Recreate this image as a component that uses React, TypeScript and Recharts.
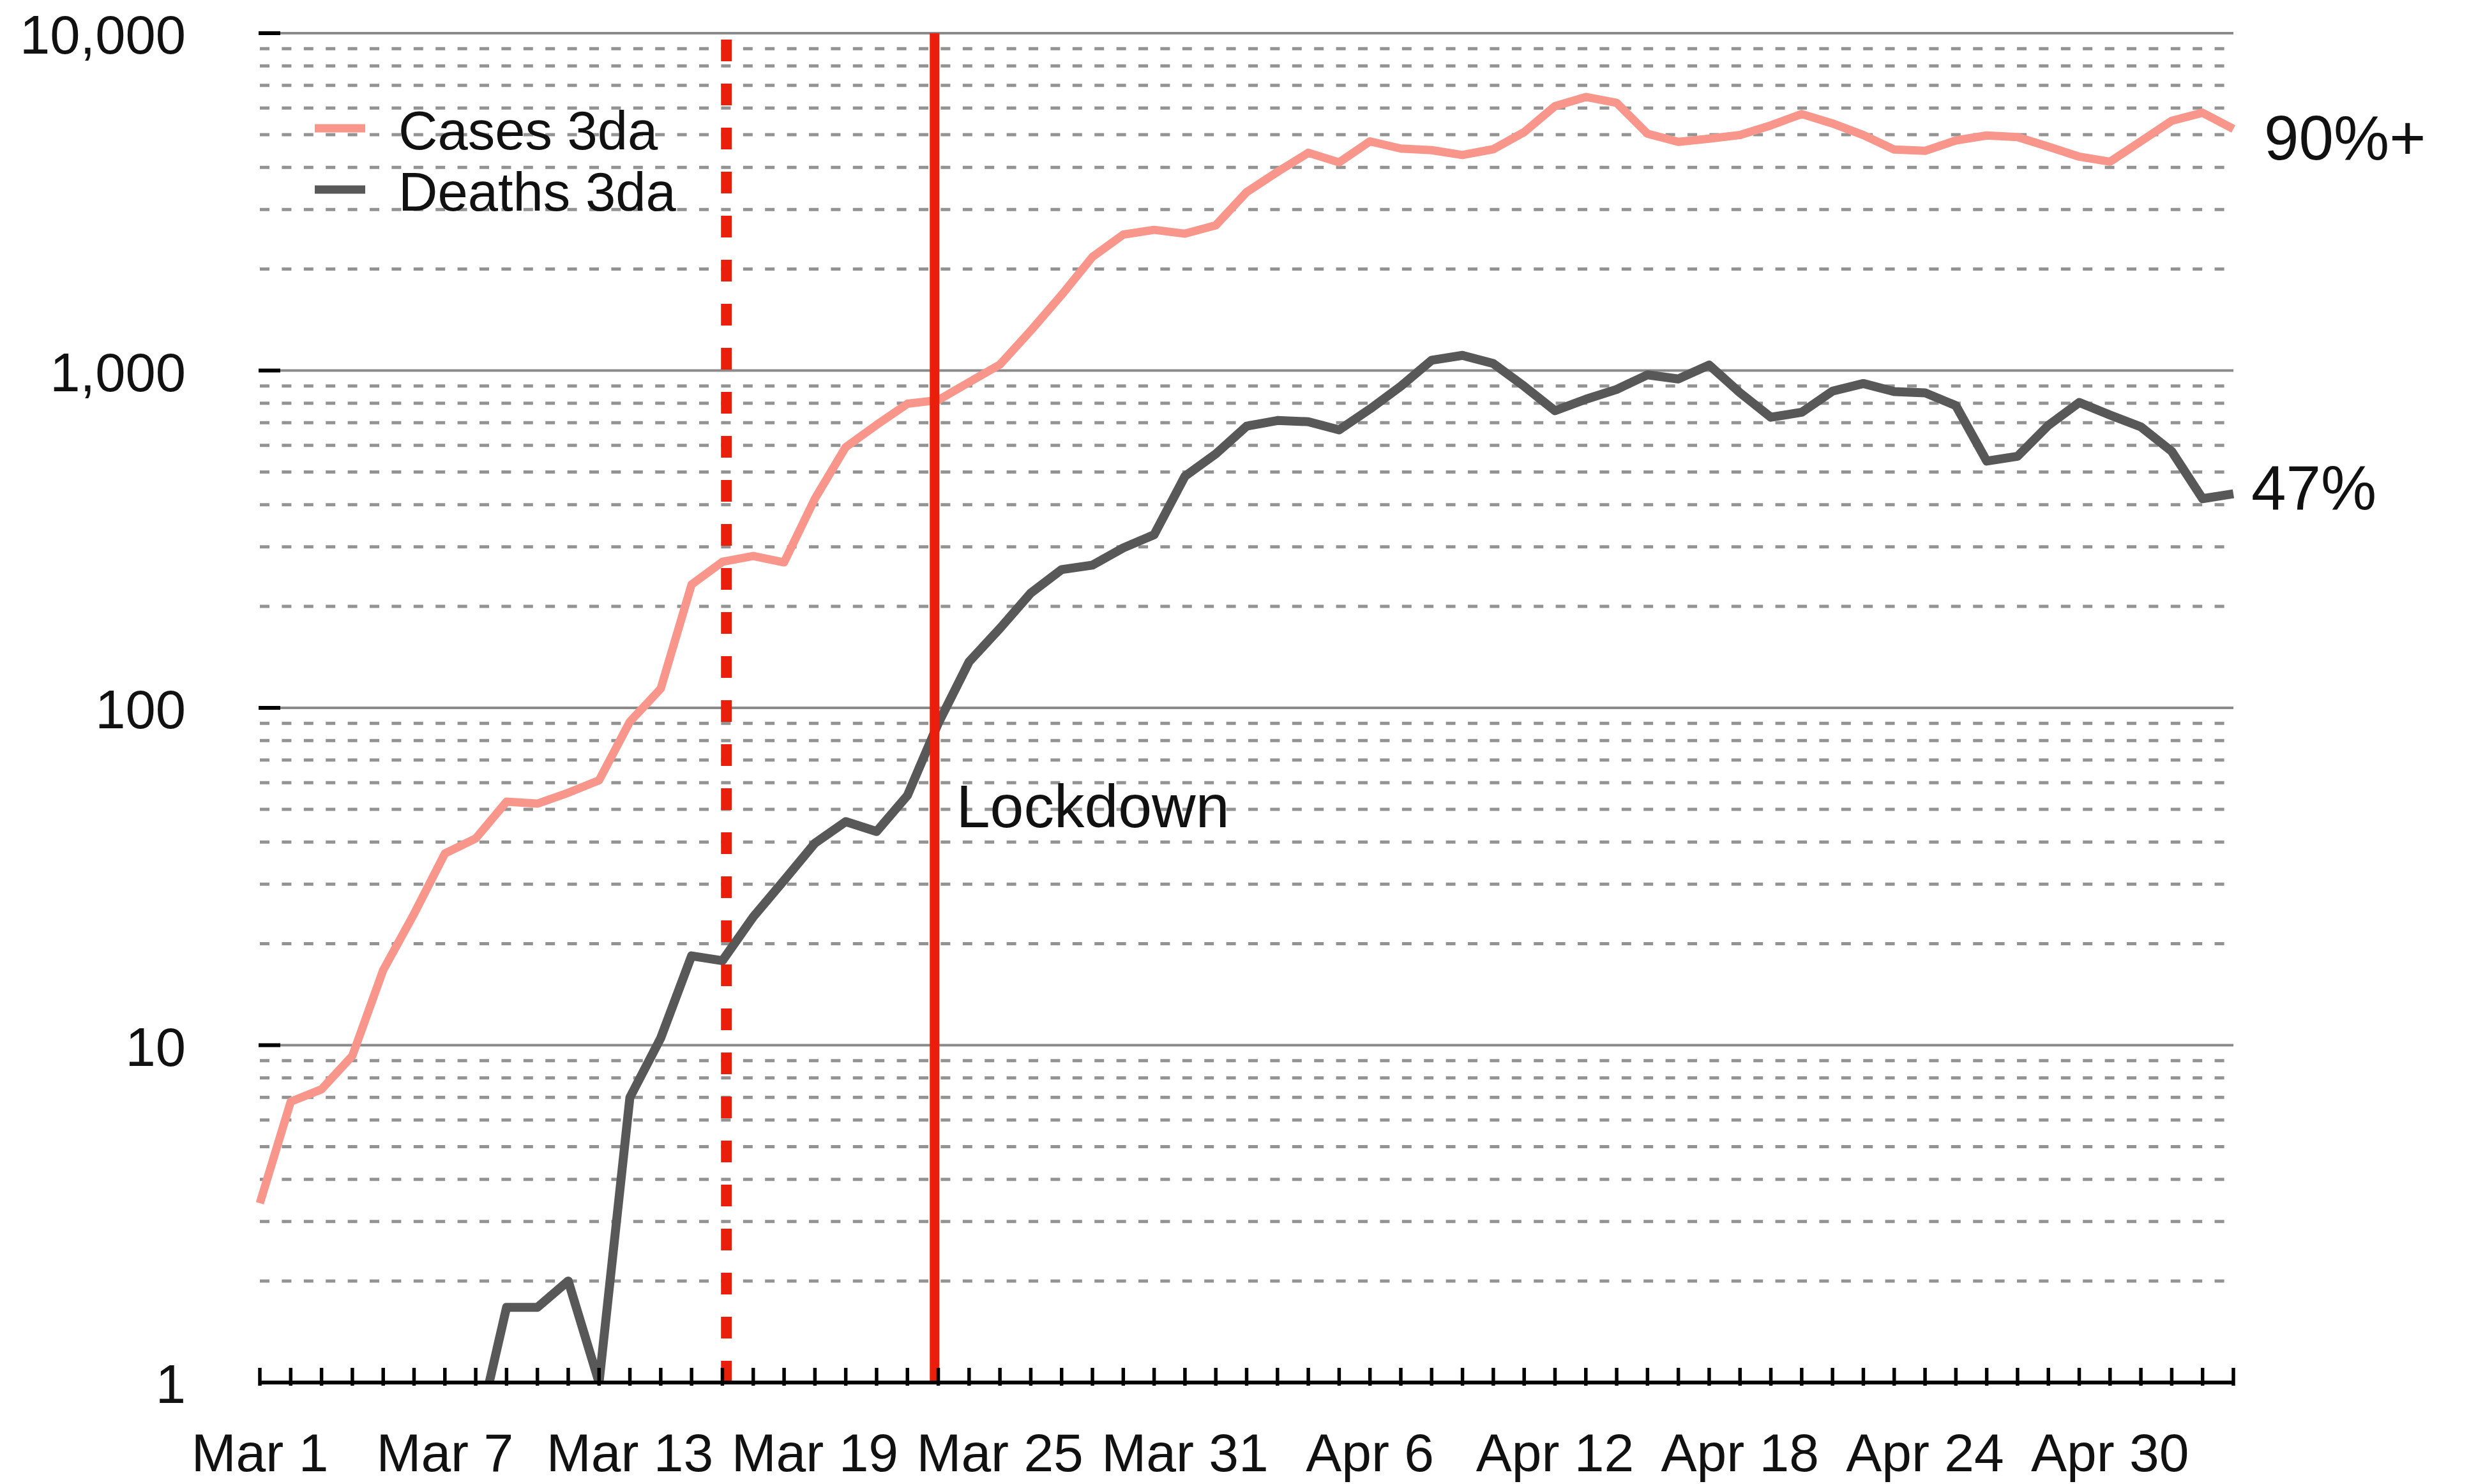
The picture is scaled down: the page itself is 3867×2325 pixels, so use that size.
import React from 'react';
import { LineChart, Line, XAxis, YAxis, ReferenceLine, ReferenceDot, Legend } from 'recharts';

const FONT = '"Liberation Sans", Arial, Helvetica, sans-serif';

const dates = [
  'Mar 1', 'Mar 2', 'Mar 3', 'Mar 4', 'Mar 5', 'Mar 6', 'Mar 7', 'Mar 8', 'Mar 9', 'Mar 10',
  'Mar 11', 'Mar 12', 'Mar 13', 'Mar 14', 'Mar 15', 'Mar 16', 'Mar 17', 'Mar 18', 'Mar 19', 'Mar 20',
  'Mar 21', 'Mar 22', 'Mar 23', 'Mar 24', 'Mar 25', 'Mar 26', 'Mar 27', 'Mar 28', 'Mar 29', 'Mar 30',
  'Mar 31', 'Apr 1', 'Apr 2', 'Apr 3', 'Apr 4', 'Apr 5', 'Apr 6', 'Apr 7', 'Apr 8', 'Apr 9',
  'Apr 10', 'Apr 11', 'Apr 12', 'Apr 13', 'Apr 14', 'Apr 15', 'Apr 16', 'Apr 17', 'Apr 18', 'Apr 19',
  'Apr 20', 'Apr 21', 'Apr 22', 'Apr 23', 'Apr 24', 'Apr 25', 'Apr 26', 'Apr 27', 'Apr 28', 'Apr 29',
  'Apr 30', 'May 1', 'May 2', 'May 3', 'May 4',
];

const casesValues = [
  3.4, 6.8, 7.4, 9.3, 16.7, 24.5, 37, 41, 52.7, 52,
  56, 61, 91, 114, 232, 271, 282, 270, 417, 593,
  690, 797, 817, 923, 1042, 1313, 1675, 2172, 2530, 2612,
  2545, 2694, 3380, 3880, 4420, 4140, 4779, 4550, 4500, 4354,
  4530, 5090, 6080, 6470, 6214, 5035, 4761, 4866, 4990, 5330,
  5760, 5400, 4990, 4520, 4480, 4810, 4975, 4920, 4610, 4305,
  4160, 4780, 5500, 5810, 5200,
];

const deathsValues = [
  null, null, null, null, null, null, null, 0.67, 1.67, 1.67,
  2, 1, 7, 10.5, 18.4, 17.8, 24, 30.8, 39.7, 46,
  43, 55, 90, 137, 172, 219, 257, 265, 298, 326,
  486, 566, 684, 711, 705, 667, 769, 898, 1073, 1109,
  1049, 898, 760, 822, 879, 971, 944, 1038, 859, 727,
  752, 869, 915, 866, 859, 787, 539, 557, 688, 804,
  738, 681, 576, 417, 431,
];

const yMajorTicks = [1, 10, 100, 1000, 10000];
const yTickLabels = ['1', '10', '100', '1,000', '10,000'];
const yMajorGrid = [10, 100, 1000, 10000];
const yMinorGrid = [
  2, 3, 4, 5, 6, 7, 8, 9,
  20, 30, 40, 50, 60, 70, 80, 90,
  200, 300, 400, 500, 600, 700, 800, 900,
  2000, 3000, 4000, 5000, 6000, 7000, 8000, 9000,
];
const labelEvery = 6;
// event markers, in days since Mar 1 (as drawn in the original, slightly off the day ticks)
const distancingDay = 15.13;
const lockdownDay = 21.88;
const lockdownText = 'Lockdown';
const casesNote = '90%+';
const deathsNote = '47%';
const casesName = 'Cases 3da';
const deathsName = 'Deaths 3da';

const CASES_COLOR = '#F8968B';
const DEATHS_COLOR = '#585858';
const RED = '#EA1F0B';

const dayIndices = dates.map((_, i) => i);
const data = dates.map((date, i) => ({ day: i, date, cases: casesValues[i], deaths: deathsValues[i] }));

const XTick = (props: any) => {
  const { x, y, payload } = props;
  const idx = Number(payload.value);
  return (
    <g>
      <line x1={x} x2={x} y1={y - 23} y2={y + 5} stroke="#000" strokeWidth={5.5} />
      {idx % labelEvery === 0 && (
        <text x={x} y={y + 139} textAnchor="middle" fontSize={84} fill="#111" fontFamily={FONT}>
          {dates[idx]}
        </text>
      )}
    </g>
  );
};

const YTick = (props: any) => {
  const { x, y, payload } = props;
  const idx = yMajorTicks.indexOf(payload.value);
  return (
    <g>
      <line x1={x - 2} x2={x + 32} y1={y} y2={y} stroke="#000" strokeWidth={6} />
      <text x={x - 116} y={y + 32} textAnchor="end" fontSize={85} fill="#111" fontFamily={FONT}>
        {idx >= 0 ? yTickLabels[idx] : String(payload.value)}
      </text>
    </g>
  );
};

const renderLegend = (props: any) => {
  const items = (props.payload || []).filter((p: any) => p.value);
  return (
    <svg width={700} height={220} style={{ overflow: 'visible' }}>
      {items.map((item: any, i: number) => (
        <g key={item.value}>
          <line x1={15} x2={94} y1={43 + i * 96} y2={43 + i * 96} stroke={item.color} strokeWidth={13} />
          <text x={146} y={76 + i * 96} fontSize={85} fill="#111" fontFamily={FONT}>
            {item.value}
          </text>
        </g>
      ))}
    </svg>
  );
};

const noteLabel = (text: string, dx: number, dy: number) => (props: any) => {
  const vb = props.viewBox || {};
  return (
    <text x={vb.x + dx} y={vb.y + dy} fontSize={98} fill="#111" fontFamily={FONT}>
      {text}
    </text>
  );
};

const lockdownLabel = (props: any) => {
  const vb = props.viewBox || {};
  return (
    <text x={vb.x + 34} y={vb.y + 1244} fontSize={95} fill="#111" fontFamily={FONT}>
      {lockdownText}
    </text>
  );
};

export default function App() {
  return (
    <div style={{ position: 'fixed', left: 8, top: 8, width: 3851, height: 2317, background: '#fff', fontFamily: FONT }}>
      <LineChart
        width={3851}
        height={2317}
        data={data}
        margin={{ top: 44, right: 361, bottom: 39, left: 0 }}
      >
        {yMinorGrid.map((v) => (
          <ReferenceLine key={'m' + v} y={v} stroke="#939393" strokeWidth={5} strokeDasharray="15 19.4" />
        ))}
        {yMajorGrid.map((v) => (
          <ReferenceLine key={'M' + v} y={v} stroke="#8a8a8a" strokeWidth={4} />
        ))}
        <XAxis
          type="number"
          dataKey="day"
          domain={[0, dates.length - 1]}
          ticks={dayIndices}
          interval={0}
          allowDecimals={false}
          tickSize={0}
          tickMargin={0}
          height={120}
          axisLine={{ stroke: '#000', strokeWidth: 6 }}
          tickLine={false}
          tick={<XTick />}
        />
        <YAxis
          type="number"
          scale="log"
          domain={[1, 10000]}
          ticks={yMajorTicks}
          interval={0}
          allowDataOverflow
          width={399}
          tickSize={0}
          tickMargin={0}
          axisLine={false}
          tickLine={false}
          tick={<YTick />}
        />
        <Line
          type="linear"
          dataKey="cases"
          name={casesName}
          stroke={CASES_COLOR}
          strokeWidth={13}
          dot={false}
          activeDot={false}
          strokeLinejoin="round"
          isAnimationActive={false}
          legendType="line"
        />
        <Line
          type="linear"
          dataKey="deaths"
          name={deathsName}
          stroke={DEATHS_COLOR}
          strokeWidth={14}
          dot={false}
          activeDot={false}
          strokeLinejoin="round"
          isAnimationActive={false}
          legendType="line"
        />
        <ReferenceLine x={distancingDay} stroke={RED} strokeWidth={17} strokeDasharray="34 35" />
        <ReferenceLine x={lockdownDay} stroke={RED} strokeWidth={15} label={lockdownLabel} />
        <ReferenceDot
          x={dates.length - 1}
          y={casesValues[casesValues.length - 1]}
          r={0}
          fill="none"
          stroke="none"
          label={noteLabel(casesNote, 48, 48)}
        />
        <ReferenceDot
          x={dates.length - 1}
          y={deathsValues[deathsValues.length - 1] as number}
          r={0}
          fill="none"
          stroke="none"
          label={noteLabel(deathsNote, 28, 24)}
        />
        <Legend
          content={renderLegend}
          layout="horizontal"
          verticalAlign="middle"
          align="center"
          wrapperStyle={{ position: 'absolute', left: 470, top: 150, width: 700, height: 220 }}
        />
      </LineChart>
    </div>
  );
}
